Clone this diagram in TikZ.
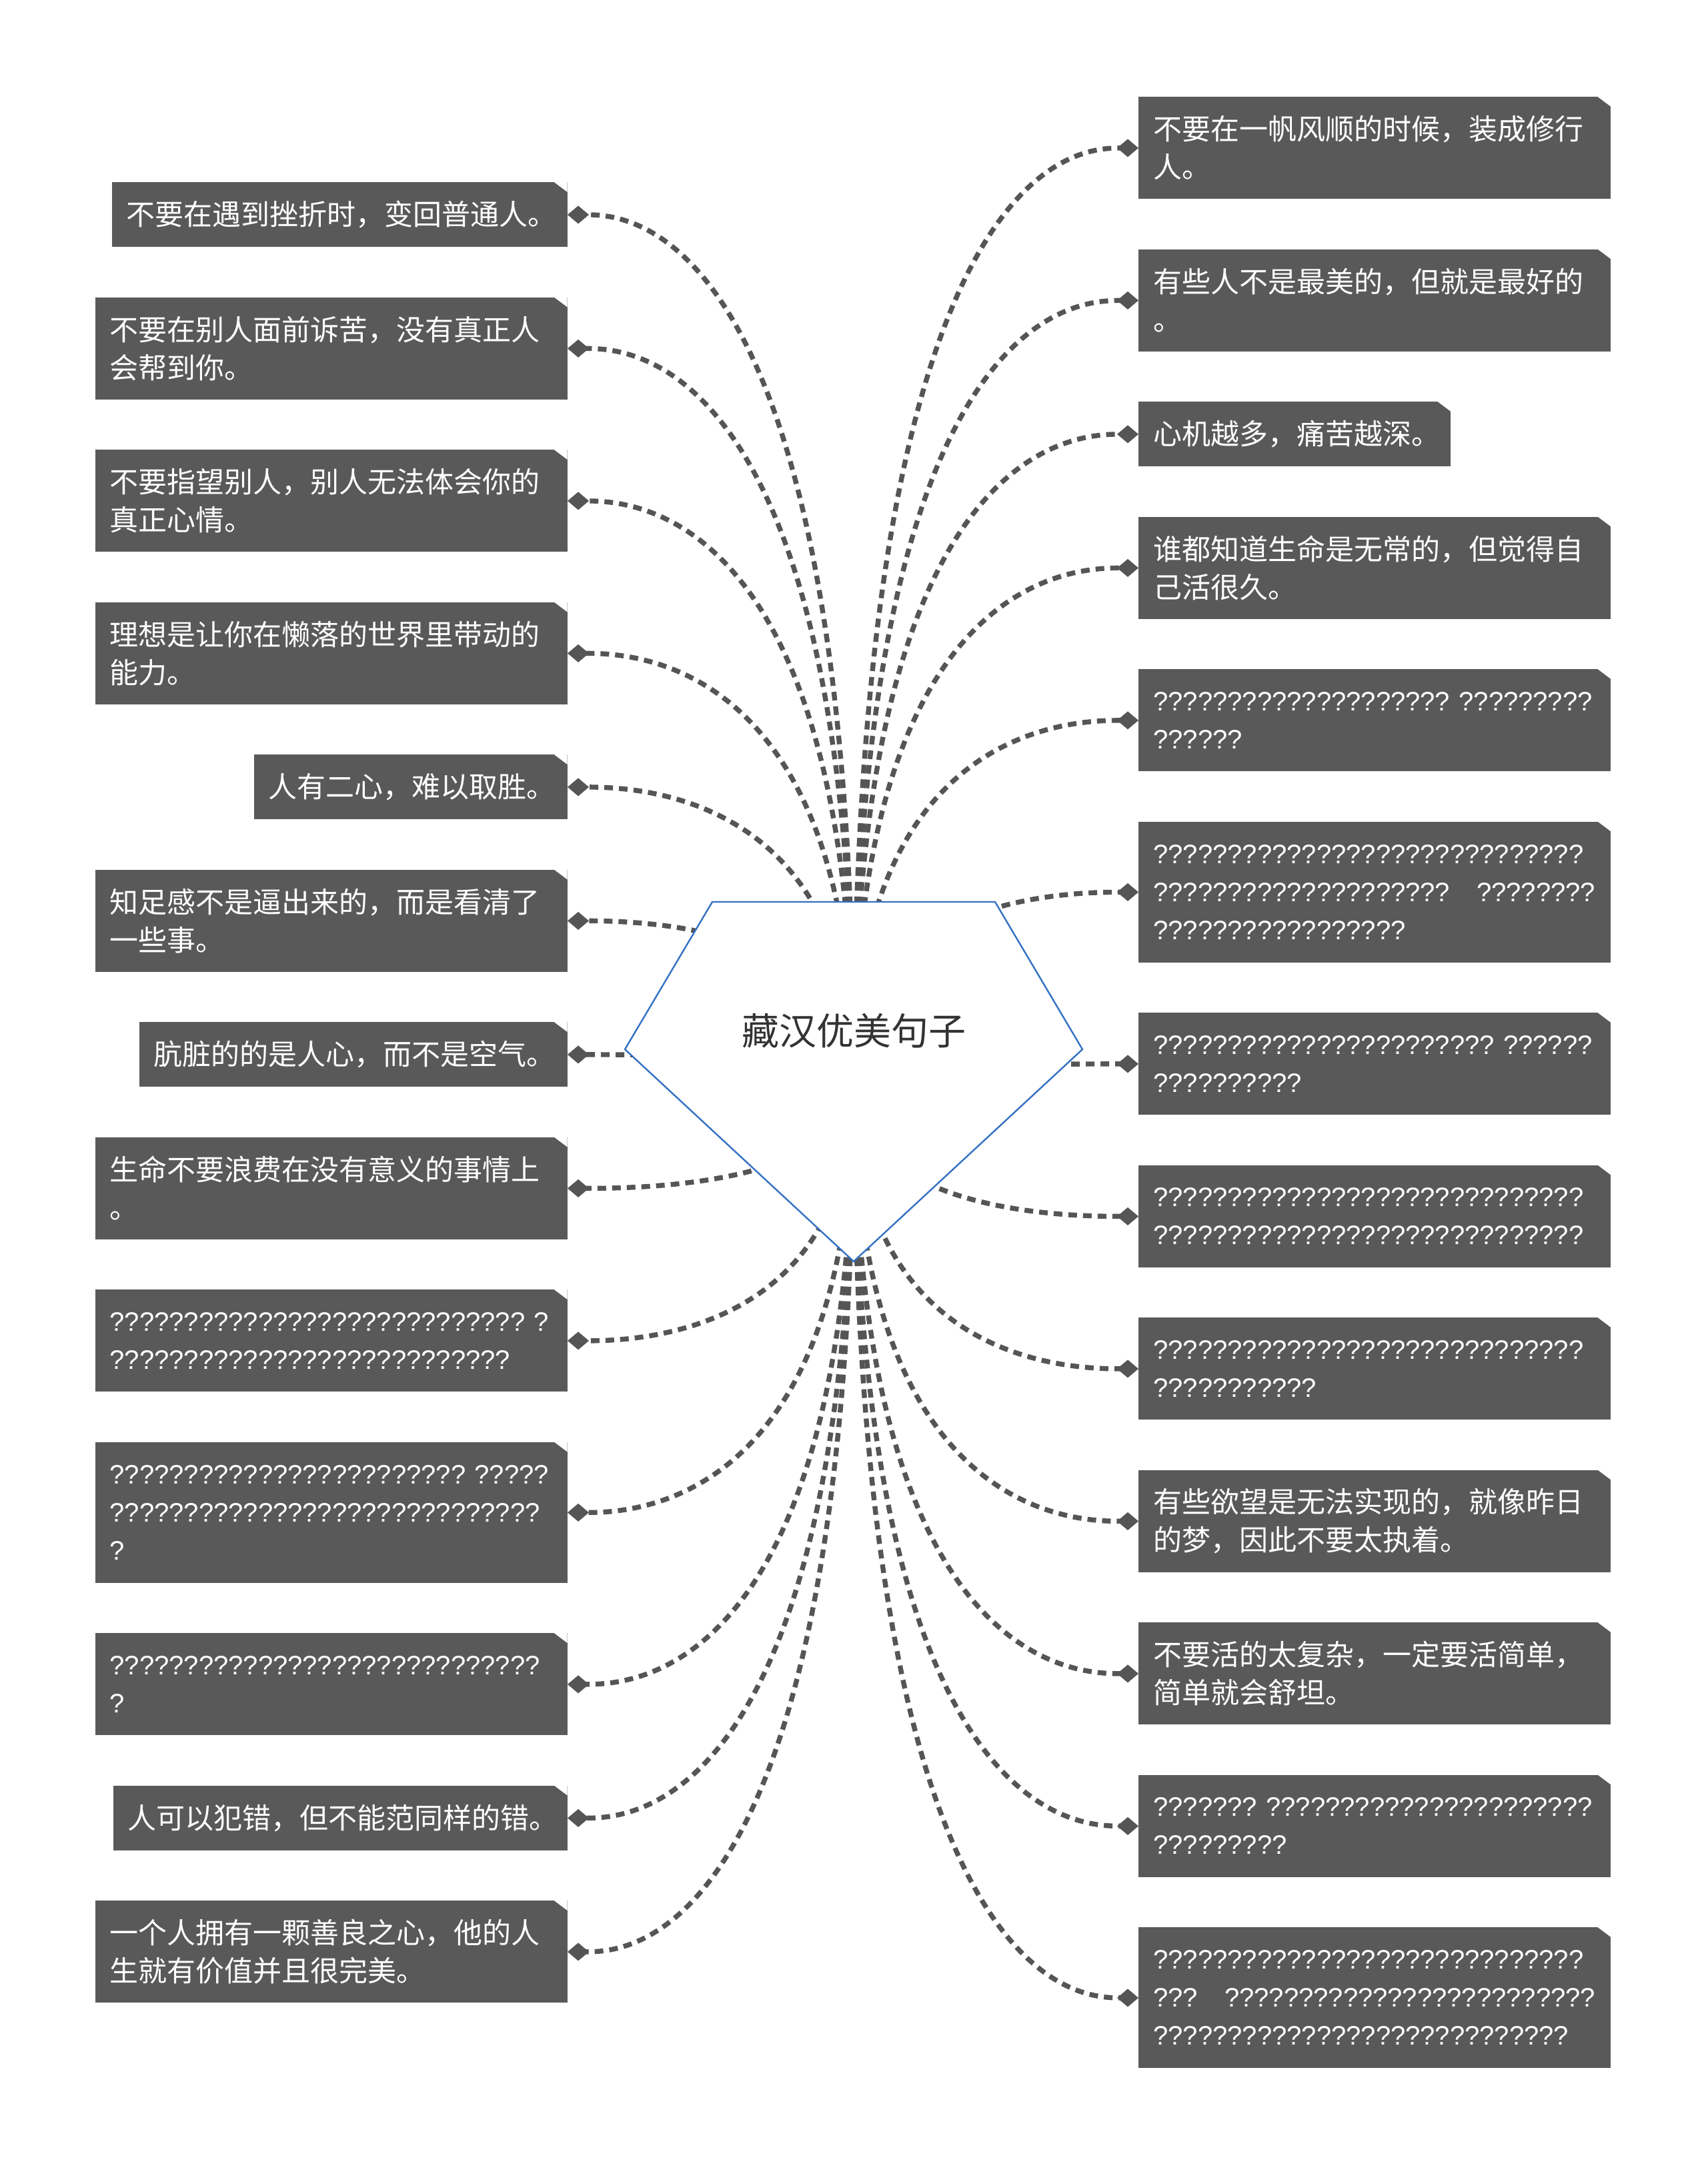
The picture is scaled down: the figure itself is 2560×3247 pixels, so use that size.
\documentclass[tikz,border=0pt]{standalone}
\usepackage{fontspec}
\setmainfont{Noto Sans CJK SC}
\newfontfamily\qfont{Liberation Sans}
\usetikzlibrary{arrows.meta}
\definecolor{boxgray}{RGB}{89,89,89}
\definecolor{linegray}{RGB}{85,85,85}
\definecolor{pentblue}{RGB}{52,113,196}
\definecolor{titlegray}{RGB}{51,51,51}
\ExplSyntaxOn
\cs_new:Npn \qrep #1 { \prg_replicate:nn {#1} {?} }
\ExplSyntaxOff
\begin{document}
\begin{tikzpicture}[x=0.5pt,y=-0.5pt,
  box/.style={fill=boxgray, text=white, inner xsep=11pt, inner ysep=0pt, align=left,
    font=\fontsize{21.5}{28.5}\selectfont,
    path picture={\fill[white] ([xshift=-11pt,yshift=1pt]path picture bounding box.north east)
      -- ([xshift=1pt,yshift=1pt]path picture bounding box.north east)
      -- ([xshift=1pt,yshift=-8pt]path picture bounding box.north east) -- cycle;}},
  qbox/.style={box, font={\qfont\fontsize{20}{28.5}\selectfont}},
  one/.style={minimum height=48.5pt},
  two/.style={minimum height=76.5pt},
  three/.style={minimum height=105.5pt},
  lbox/.style={anchor=north east},
  rbox/.style={anchor=north west, text width=332pt},
  conn/.style={draw=linegray, line width=3.7pt, dash pattern=on 6.5pt off 4.5pt,
    -{Diamond[length=16pt,width=13.5pt]}},
  pent/.style={draw=pentblue, fill=white, line width=1.2pt, line join=miter},
  title/.style={font=\fontsize{28}{30}\selectfont, text=titlegray, inner sep=0pt}
]
\useasboundingbox (0,0) rectangle (2560,3247);

% left column
\node[box,one,lbox,text width=319.5pt] (L1) at (851,273) {不要在遇到挫折时，变回普通人。};
\node[box,two,lbox,text width=332pt] (L2) at (851,445.5) {不要在别人面前诉苦，没有真正人\\会帮到你。};
\node[box,two,lbox,text width=332pt] (L3) at (851,674) {不要指望别人，别人无法体会你的\\真正心情。};
\node[box,two,lbox,text width=332pt] (L4) at (851,902.5) {理想是让你在懒落的世界里带动的\\能力。};
\node[box,one,lbox,text width=213pt] (L5) at (851,1131) {人有二心，难以取胜。};
\node[box,two,lbox,text width=332pt] (L6) at (851,1303.5) {知足感不是逼出来的，而是看清了\\一些事。};
\node[box,one,lbox,text width=299pt] (L7) at (851,1532) {肮脏的的是人心，而不是空气。};
\node[box,two,lbox,text width=332pt] (L8) at (851,1704.5) {生命不要浪费在没有意义的事情上\\。};
\node[qbox,two,lbox,text width=332pt] (L9) at (851,1933) {\qrep{28}~\qrep{1}\\\qrep{27}};
\node[qbox,three,lbox,text width=332pt] (L10) at (851,2161.5) {\qrep{24}~\qrep{5}\\\qrep{29}\\\qrep{1}};
\node[qbox,two,lbox,text width=332pt] (L11) at (851,2448) {\qrep{29}\\\qrep{1}};
\node[box,one,lbox,text width=318.5pt] (L12) at (851,2676.5) {人可以犯错，但不能范同样的错。};
\node[box,two,lbox,text width=332pt] (L13) at (851,2849) {一个人拥有一颗善良之心，他的人\\生就有价值并且很完美。};

% right column
\node[box,two,rbox] (R1) at (1707,145) {不要在一帆风顺的时候，装成修行\\人。};
\node[box,two,rbox] (R2) at (1707,373.5) {有些人不是最美的，但就是最好的\\。};
\node[box,one,rbox,text width=212pt] (R3) at (1707,602) {心机越多，痛苦越深。};
\node[box,two,rbox] (R4) at (1707,774.5) {谁都知道生命是无常的，但觉得自\\己活很久。};
\node[qbox,two,rbox] (R5) at (1707,1003) {\qrep{20}~\qrep{9}\\\qrep{6}};
\node[qbox,three,rbox] (R6) at (1707,1231.5) {\qrep{29}\\\qrep{20}~~~\qrep{8}\\\qrep{17}};
\node[qbox,two,rbox] (R7) at (1707,1518) {\qrep{23}~\qrep{6}\\\qrep{10}};
\node[qbox,two,rbox] (R8) at (1707,1746.5) {\qrep{29}\\\qrep{29}};
\node[qbox,two,rbox] (R9) at (1707,1975) {\qrep{29}\\\qrep{11}};
\node[box,two,rbox] (R10) at (1707,2203.5) {有些欲望是无法实现的，就像昨日\\的梦，因此不要太执着。};
\node[box,two,rbox] (R11) at (1707,2432) {不要活的太复杂，一定要活简单，\\简单就会舒坦。};
\node[qbox,two,rbox] (R12) at (1707,2660.5) {\qrep{7}~\qrep{22}\\\qrep{9}};
\node[qbox,three,rbox] (R13) at (1707,2889) {\qrep{29}\\\qrep{3}~~~\qrep{25}\\\qrep{28}};

% connectors
\coordinate (C) at (1280,1621);
\foreach \n in {L1,L2,L3,L4,L5,L6,L7,L8,L9,L10,L11,L12,L13}
  {\draw[conn] (C) .. controls (C |- \n.east) and ([xshift=43.5pt]\n.east) .. (\n.east);}
\foreach \n in {R1,R2,R3,R4,R5,R6,R7,R8,R9,R10,R11,R12,R13}
  {\draw[conn] (C) .. controls (C |- \n.west) and ([xshift=-43.5pt]\n.west) .. (\n.west);}

% central pentagon
\draw[pent] (1068,1352) -- (1492,1352) -- (1623,1573) -- (1280,1891) -- (937,1573) -- cycle;
\node[title] (T) at (1280,1545) {藏汉优美句子};
\end{tikzpicture}
\end{document}
